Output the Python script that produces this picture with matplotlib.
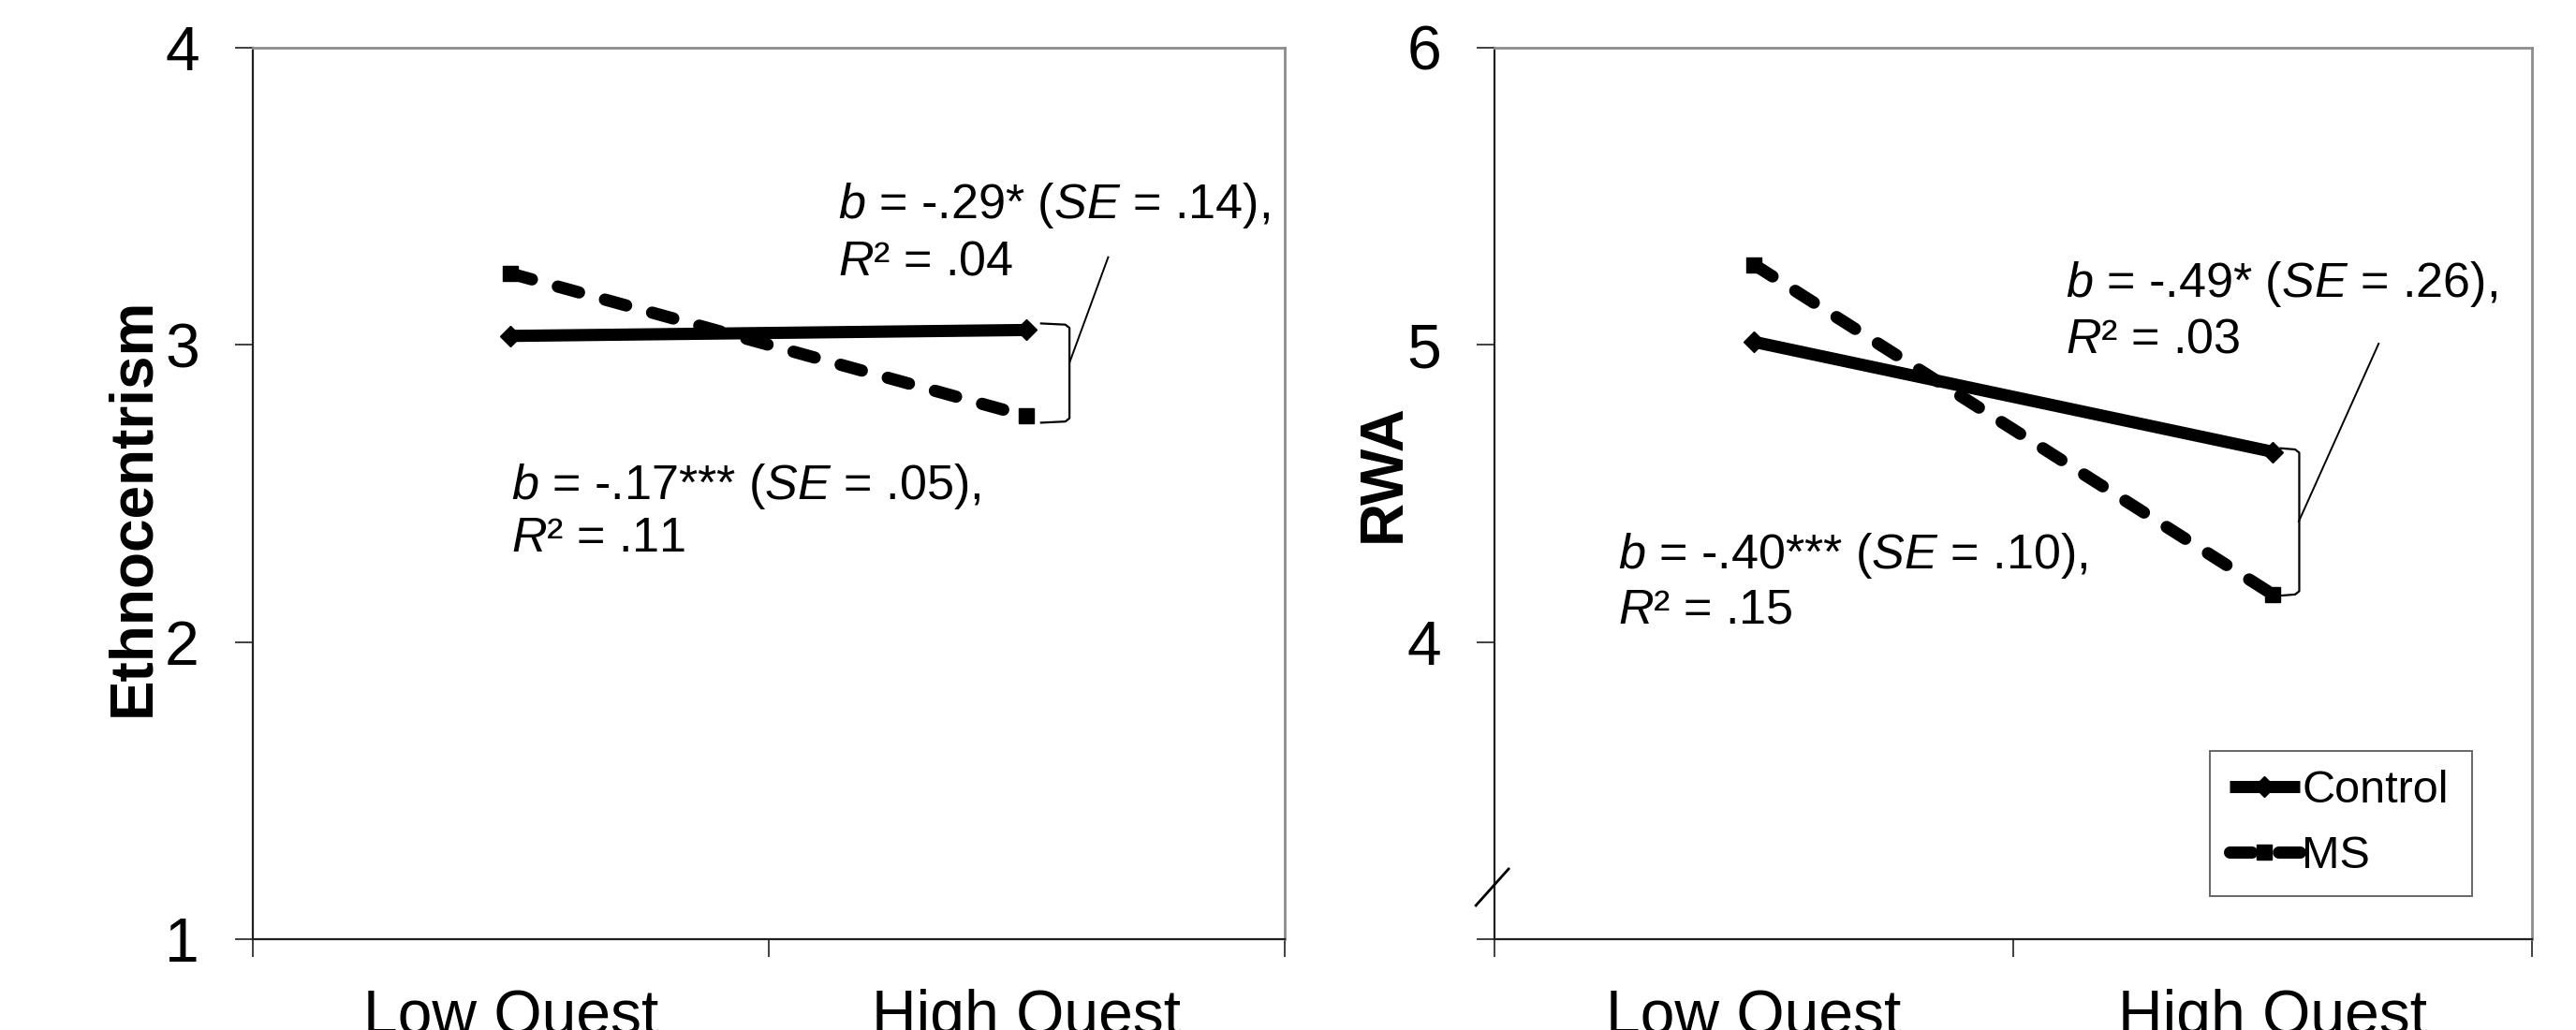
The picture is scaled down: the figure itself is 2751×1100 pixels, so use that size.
import numpy as np
import matplotlib
matplotlib.use('Agg')
import matplotlib.pyplot as plt

plt.rcParams['font.family'] = ['Liberation Sans', 'DejaVu Sans']
plt.rcParams['mathtext.fontset'] = 'custom'
plt.rcParams['mathtext.rm'] = 'Liberation Sans'
plt.rcParams['mathtext.it'] = 'Liberation Sans:italic'
plt.rcParams['mathtext.bf'] = 'Liberation Sans:bold'

# ---------------- data ----------------
categories = ['Low Quest', 'High Quest']
groups = ['Control', 'MS']

ethno_control = [3.03, 3.05]
ethno_ms = [3.24, 2.76]
rwa_control = [5.01, 4.64]
rwa_ms = [5.27, 4.16]

ethno_ylim = (1, 4)
ethno_ticks = [1, 2, 3, 4]
ethno_ticklabels = ['1', '2', '3', '4']
rwa_ylim = (3, 6)
rwa_ticks = [3, 4, 5, 6]
rwa_ticklabels = ['', '4', '5', '6']

ethno_note_ms = [r'$b$ = -.29* ($SE$ = .14),', r'$R$² = .04']
ethno_note_ctrl = [r'$b$ = -.17*** ($SE$ = .05),', r'$R$² = .11']
rwa_note_ms = [r'$b$ = -.49* ($SE$ = .26),', r'$R$² = .03']
rwa_note_ctrl = [r'$b$ = -.40*** ($SE$ = .10),', r'$R$² = .15']

# ---------------- figure ----------------
fig = plt.figure(figsize=(27.51, 11.0), dpi=100)
ax1 = fig.add_axes([0.0981, 0.0882, 0.4006, 0.8655])
ax2 = fig.add_axes([0.5802, 0.0882, 0.4028, 0.8655])

x = np.arange(len(categories)) + 0.5
LW = 9.4
TICK_FS = 47.5
NOTE_FS = 37.5


def style_axes(ax, ylim, yticks, yticklabels, ylabel, label_xy):
    ax.set_xlim(0, 2)
    ax.set_ylim(*ylim)
    ax.set_yticks(yticks)
    ax.set_yticklabels(yticklabels)
    ax.set_xticks([0, 1, 2])
    ax.set_xticklabels([])
    ax.set_xticks(x, minor=True)
    ax.set_xticklabels(categories, minor=True)
    ax.tick_params(axis='y', which='major', direction='out', length=14,
                   width=1.4, color='#404040', labelsize=TICK_FS, pad=27)
    ax.tick_params(axis='x', which='major', direction='out', length=14,
                   width=1.4, color='#404040')
    ax.tick_params(axis='x', which='minor', length=0, labelsize=TICK_FS,
                   pad=38)
    for s in ['left', 'bottom']:
        ax.spines[s].set_color('#202020')
        ax.spines[s].set_linewidth(1.6)
    for s in ['top', 'right']:
        ax.spines[s].set_color('#8c8c8c')
        ax.spines[s].set_linewidth(2.0)
    ax.set_ylabel(ylabel, fontsize=46, fontweight='bold')
    ax.yaxis.set_label_coords(*label_xy)
    ax.yaxis.label.set_va('center')


def draw_lines(ax, ctrl, ms):
    lc, = ax.plot(x, ctrl, color='black', lw=LW, linestyle='-',
                  marker='D', markersize=11, solid_capstyle='butt',
                  label=groups[0], zorder=3)
    lm, = ax.plot(x, ms, color='black', lw=LW, linestyle=(0, (1.8, 2.2)),
                  dash_capstyle='round', marker='s', markersize=11,
                  label=groups[1], zorder=3)
    return lc, lm


def bracket(ax, top, bottom, x_end, x_bar, lead_start, lead_end):
    ax.plot([x_end, x_bar - 0.008, x_bar, x_bar, x_bar - 0.008, x_end],
            [top, top - 0.004, top - 0.015, bottom + 0.015, bottom + 0.004, bottom],
            color='black', lw=1.6, zorder=2)
    ax.plot([lead_start[0], lead_end[0]], [lead_start[1], lead_end[1]],
            transform=ax.transAxes, color='black', lw=1.4, zorder=2)


def note(ax, xpos, ys, lines):
    for yy, txt in zip(ys, lines):
        ax.text(xpos, yy, txt, transform=ax.transAxes, fontsize=NOTE_FS,
                ha='left', va='baseline')


# ---- left panel ----
style_axes(ax1, ethno_ylim, ethno_ticks, ethno_ticklabels, 'Ethnocentrism',
           (-0.116, 0.485))
draw_lines(ax1, ethno_control, ethno_ms)
bracket(ax1, ethno_control[1] + 0.022, ethno_ms[1] - 0.022, 1.528, 1.583,
        (0.7913, 0.646), (0.829, 0.765))
note(ax1, 0.567, [0.809, 0.745], ethno_note_ms)
note(ax1, 0.251, [0.494, 0.435], ethno_note_ctrl)

# ---- right panel ----
style_axes(ax2, rwa_ylim, rwa_ticks, rwa_ticklabels, 'RWA', (-0.107, 0.523))
lc, lm = draw_lines(ax2, rwa_control, rwa_ms)
bracket(ax2, rwa_control[1] + 0.012, rwa_ms[1] - 0.004, 1.515, 1.551,
        (0.775, 0.4685), (0.852, 0.668))
note(ax2, 0.550, [0.721, 0.658], rwa_note_ms)
note(ax2, 0.119, [0.416, 0.355], rwa_note_ctrl)

# axis break mark
ax2.plot([-0.018, 0.0135], [0.0378, 0.0788], transform=ax2.transAxes,
         color='black', lw=2.0, clip_on=False, zorder=5)

leg = ax2.legend(handles=[lc, lm], loc='lower left',
                 bbox_to_anchor=(0.6895, 0.0483, 0.2525, 0.167),
                 mode='expand', fontsize=35, frameon=True, fancybox=False,
                 edgecolor='#404040', handlelength=1.55, handletextpad=0.05,
                 borderpad=0.42, labelspacing=0.5, borderaxespad=0.0,
                 numpoints=1)
leg.get_frame().set_linewidth(1.4)

fig.savefig('out.png', dpi=100, facecolor='white')
